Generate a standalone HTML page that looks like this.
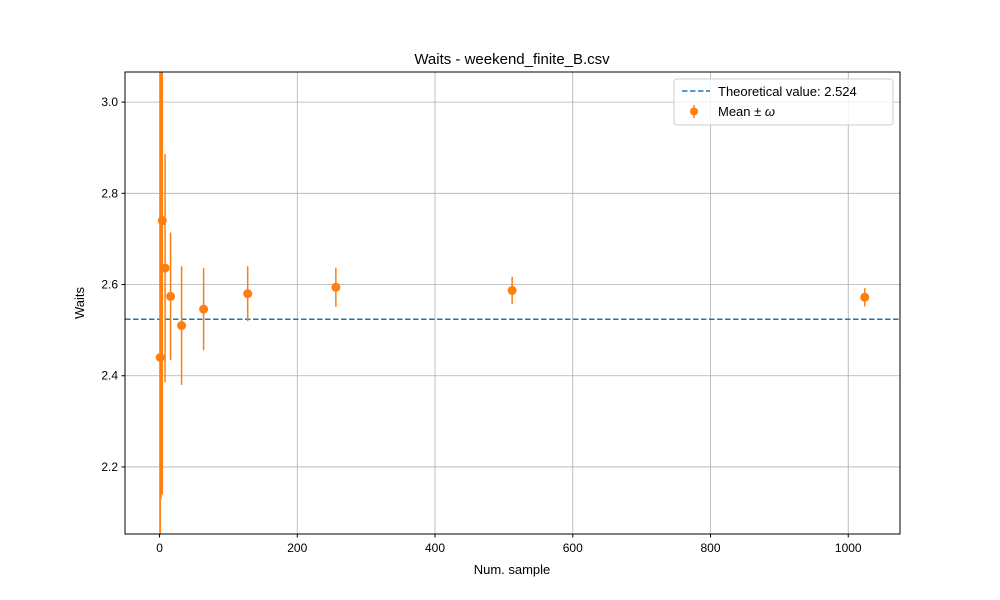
<!DOCTYPE html>
<html><head><meta charset="utf-8"><style>
html,body{margin:0;background:#fff;overflow:hidden;width:1000px;height:600px}
svg{display:block;font-family:"Liberation Sans","DejaVu Sans",sans-serif}
</style></head><body>
<svg id="chart" width="1000" height="600" xmlns="http://www.w3.org/2000/svg">
<rect width="1000" height="600" fill="#fff"/>
<g id="grid"></g>
<g id="marks"></g>
<rect x="125" y="72" width="775" height="462" fill="none" stroke="#000" stroke-width="1"/>
<g id="axes"></g>
<text x="512" y="64" text-anchor="middle" font-size="15">Waits - weekend_finite_B.csv</text>
<text x="512" y="574" text-anchor="middle" font-size="13">Num. sample</text>
<text transform="translate(84,303) rotate(-90)" text-anchor="middle" font-size="13">Waits</text>
<g>
<rect x="674" y="79" width="219" height="46" rx="3" fill="#fff" fill-opacity="0.8" stroke="#ccc"/>
<line x1="682" y1="91" x2="710" y2="91" stroke="#1f77b4" stroke-width="1.5" stroke-dasharray="5.5,2.5"/>
<text x="718" y="96" font-size="13">Theoretical value: 2.524</text>
<line x1="694" y1="105" x2="694" y2="118" stroke="#ff7f0e" stroke-width="1.5"/>
<circle cx="694" cy="111.5" r="4" fill="#ff7f0e"/>
<text x="718" y="116" font-size="13">Mean ± <tspan font-style="italic">ω</tspan></text>
</g>
</svg>
<script>
const xs=[1,2,4,8,16,32,64,128,256,512,1024];
const means=[2.44,3.2,2.74,2.636,2.574,2.51,2.546,2.58,2.594,2.587,2.572];
const errs=[1.0,1.07,0.6,0.25,0.14,0.13,0.09,0.06,0.043,0.03,0.02];
const theoretical=2.524;
const xTicks=[0,200,400,600,800,1000];
const yTicks=[2.2,2.4,2.6,2.8,3.0];
const X0=125,X1=900,Y0=72,Y1=534,xmin=-50.15,xmax=1075.15,ymin=2.053,ymax=3.066;
const sx=v=>X0+(v-xmin)/(xmax-xmin)*(X1-X0);
const sy=v=>Y1-(v-ymin)/(ymax-ymin)*(Y1-Y0);
const NS="http://www.w3.org/2000/svg";
function mk(t,a,p){const e=document.createElementNS(NS,t);for(const k in a)e.setAttribute(k,a[k]);p.appendChild(e);return e;}
const grid=document.getElementById('grid'),axes=document.getElementById('axes'),marks=document.getElementById('marks');
xTicks.forEach(t=>{const x=sx(t);
const g=mk('line',{x1:x,x2:x,y1:Y0,y2:Y1,stroke:'#b0b0b0','stroke-width':0.8},grid);


mk('line',{x1:x,x2:x,y1:Y1,y2:Y1+3.5,stroke:'#000'},axes);
const l=mk('text',{x:x,y:Y1+18,'text-anchor':'middle','font-size':12},axes);l.textContent=t;

});
yTicks.forEach(t=>{const y=sy(t);
const g=mk('line',{x1:X0,x2:X1,y1:y,y2:y,stroke:'#b0b0b0','stroke-width':0.8},grid);


mk('line',{x1:X0-3.5,x2:X0,y1:y,y2:y,stroke:'#000'},axes);
const l=mk('text',{x:X0-7,y:y+4,'text-anchor':'end','font-size':12},axes);l.textContent=t.toFixed(1);

});
const clip=mk('clipPath',{id:'pc'},marks);mk('rect',{x:X0,y:Y0,width:X1-X0,height:Y1-Y0},clip);
const g=mk('g',{'clip-path':'url(#pc)'},marks);
const th=mk('line',{x1:X0,x2:X1,y1:sy(theoretical),y2:sy(theoretical),stroke:'#1f77b4','stroke-width':1.5,'stroke-dasharray':'5.5,2.5'},g);


xs.forEach((v,i)=>{const x=sx(v);
const e=mk('line',{x1:x,x2:x,y1:sy(means[i]+errs[i]),y2:sy(means[i]-errs[i]),stroke:'#ff7f0e','stroke-width':1.5},g);


const c=mk('circle',{cx:x,cy:sy(means[i]),r:4.5,fill:'#ff7f0e'},g);

});
</script>
</body></html>
